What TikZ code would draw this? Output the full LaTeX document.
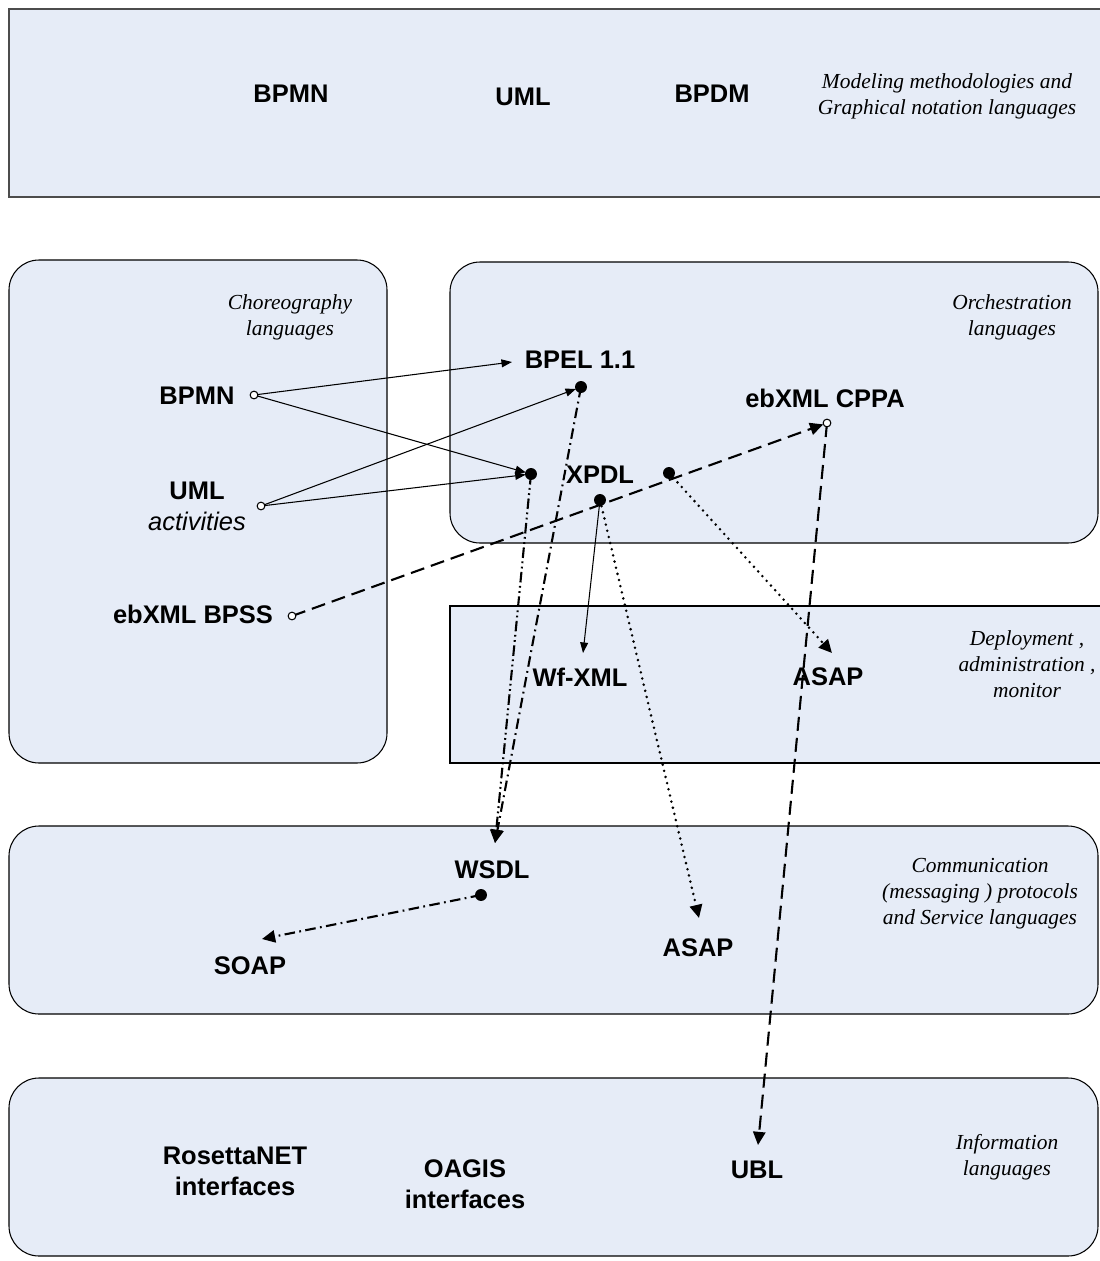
\documentclass[tikz,border=0pt]{standalone}
\usepackage{fontspec}
\setmainfont{Liberation Serif}
\setsansfont{Liberation Sans}
\usetikzlibrary{arrows.meta}
\definecolor{layerblue}{RGB}{230,236,247}

\begin{document}
\begin{tikzpicture}[x=0.02cm, y=-0.02cm,
    layer/.style={draw=black, line width=0.6pt, fill=layerblue},
    roundlayer/.style={layer, rounded corners=0.6cm},
    lang/.style={font=\sffamily\bfseries\fontsize{14.5}{17.5}\selectfont, align=center},
    note/.style={font=\itshape\fontsize{12.2}{14.8}\selectfont, align=center},
    thinarrow/.style={line width=0.6pt, -{Triangle[length=6pt,width=4.5pt]}},
    boldarrow/.style={line width=1.2pt, -{Triangle[length=7.5pt,width=7pt]}},
    longdash/.style={boldarrow, dash pattern=on 8pt off 4pt},
    dotline/.style={boldarrow, line width=1.6pt, line cap=round, dash pattern=on 0pt off 3.6pt},
    dashdot/.style={boldarrow, dash pattern=on 6pt off 2.5pt on 1pt off 2.5pt},
    dashdotdot/.style={boldarrow, dash pattern=on 6pt off 2pt on 1pt off 2pt on 1pt off 2pt},
    opendot/.style={draw, line width=0.6pt, fill=white},
  ]

    \useasboundingbox (0,0) rectangle (1099,1261);

    % Draw the layers as light blue boxes
    \draw[layer, draw=black!70] (9,9) rectangle (1110,197);
    \draw[roundlayer] (9,260) rectangle (387,763);
    \draw[roundlayer] (450,262) rectangle (1098,543);
    \draw[layer] (450,606) rectangle (1110,763);
    \draw[roundlayer] (9,826) rectangle (1098,1014);
    \draw[roundlayer] (9,1078) rectangle (1098,1256);

    % Modeling layer
    \node[lang] (topbpmn) at (291,94) {BPMN};
    \node[lang] (topuml) at (523,97) {UML};
    \node[lang] (topbpdm) at (712,94) {BPDM};
    \node[note] (modeling) at (947,96) {Modeling methodologies and\\Graphical notation languages};

    % Choreography layer
    \node[note] (choreo) at (290,317) {Choreography\\languages};
    \node[lang] (bpmn) at (197,396) {BPMN};
    \node[lang] (uml) at (197,506) {UML\\{\mdseries\itshape activities}};
    \node[lang] (bpss) at (193,614) {ebXML BPSS};

    % Orchestration layer
    \node[note] (orch) at (1012,317) {Orchestration\\languages};
    \node[lang] (bpel) at (580,360) {BPEL 1.1};
    \node[lang] (xpdl) at (600,475) {XPDL};
    \node[lang] (cppa) at (825,398) {ebXML CPPA};

    % Deployment layer
    \node[lang] (wfxml) at (580,677) {Wf-XML};
    \node[lang] (asapdepl) at (828,677) {ASAP};
    \node[note] (deploy) at (1027,664) {Deployment ,\\administration ,\\monitor};

    % Communication layer
    \node[lang] (wsdl) at (492,870) {WSDL};
    \node[lang] (soap) at (250,966) {SOAP};
    \node[lang] (asapcomm) at (698,948) {ASAP};
    \node[note] (comm) at (980,894) {Communication\\(messaging ) protocols\\and Service languages};

    % Information layer
    \node[lang] (rosetta) at (235,1171) {RosettaNET\\interfaces};
    \node[lang] (oagis) at (465,1184) {OAGIS\\interfaces};
    \node[lang] (ubl) at (757,1170) {UBL};
    \node[note] (info) at (1007,1157) {Information\\languages};

    % Ports of the connectors
    \coordinate (bpmnOut) at (254,395);
    \coordinate (umlOut) at (261,506);
    \coordinate (bpssOut) at (292,616);
    \coordinate (cppaPort) at (827,423);
    \coordinate (bpelIn) at (512,362);
    \coordinate (bpelPort) at (581,387);
    \coordinate (xpdlIn) at (531,474);
    \coordinate (xpdlOut) at (600,500);
    \coordinate (xpdlSide) at (669,473);
    \coordinate (wfxmlIn) at (583,653);
    \coordinate (asapdeplIn) at (832,653);
    \coordinate (wsdlIn) at (495,843);
    \coordinate (wsdlOut) at (481,895);
    \coordinate (soapIn) at (262,939);
    \coordinate (asapcommIn) at (699,918);
    \coordinate (ublIn) at (758,1145);

    % Choreography to orchestration
    \draw[thinarrow] (bpmnOut) -- (bpelIn);
    \draw[thinarrow, shorten >=3pt] (bpmnOut) -- (xpdlIn);
    \draw[thinarrow, shorten >=3pt] (umlOut) -- (bpelPort);
    \draw[thinarrow, shorten >=3pt] (umlOut) -- (xpdlIn);
    \draw[longdash, shorten >=2.3pt] (bpssOut) -- (cppaPort);
    \draw[longdash] (cppaPort) -- (ublIn);

    % Orchestration to the lower layers
    \draw[thinarrow] (xpdlOut) -- (wfxmlIn);
    \draw[dotline] (xpdlOut) -- (asapcommIn);
    \draw[dotline] (xpdlSide) -- (asapdeplIn);
    \draw[dashdotdot] (xpdlIn) -- (wsdlIn);
    \draw[dashdot] (bpelPort) -- (wsdlIn);
    \draw[dashdot] (wsdlOut) -- (soapIn);

    % Dots on the ports
    \foreach \p in {bpelPort, xpdlIn, xpdlOut, xpdlSide, wsdlOut}
      \fill (\p) circle (3.4pt);
    \foreach \p in {bpmnOut, umlOut, bpssOut, cppaPort}
      \draw[opendot] (\p) circle (2.2pt);

\end{tikzpicture}
\end{document}
